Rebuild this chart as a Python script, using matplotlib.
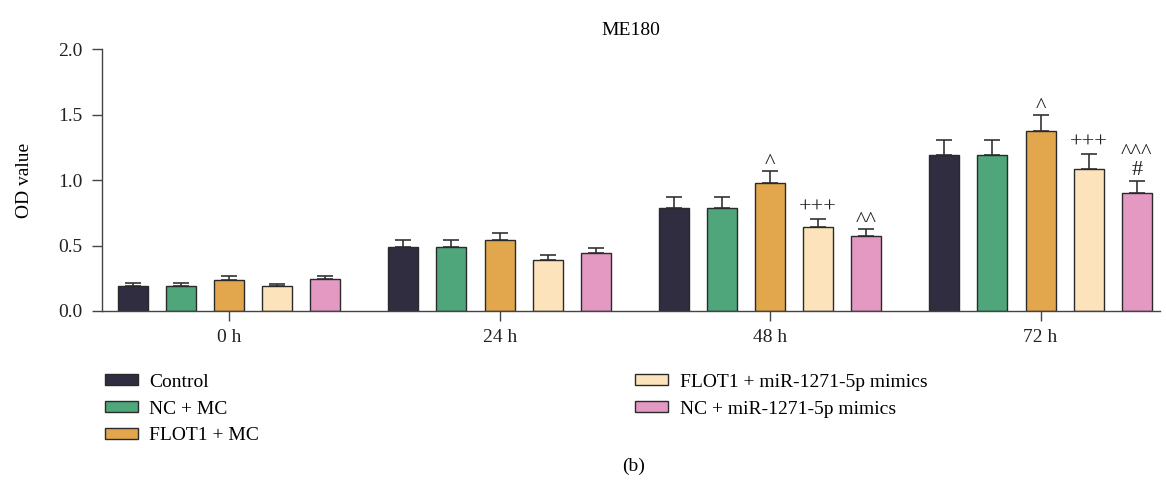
import matplotlib.pyplot as plt
import numpy as np
from matplotlib.patches import Patch

plt.rcParams["font.family"] = ["Liberation Serif", "DejaVu Serif"]

TIMEPOINTS = ["0 h", "24 h", "48 h", "72 h"]
GROUPS = [
    "Control",
    "NC + MC",
    "FLOT1 + MC",
    "FLOT1 + miR-1271-5p mimics",
    "NC + miR-1271-5p mimics",
]
COLORS = ["#2f2d3f", "#4fa67a", "#e2a74d", "#fde3bb", "#e499c3"]

# OD means per group, one entry per timepoint
control = [0.19, 0.49, 0.79, 1.19]
nc_mc = [0.19, 0.49, 0.79, 1.19]
flot1_mc = [0.24, 0.54, 0.975, 1.375]
flot1_mimics = [0.19, 0.39, 0.645, 1.085]
nc_mimics = [0.245, 0.44, 0.573, 0.898]

control_sd = [0.02, 0.05, 0.08, 0.12]
nc_mc_sd = [0.02, 0.05, 0.08, 0.115]
flot1_mc_sd = [0.03, 0.055, 0.095, 0.12]
flot1_mimics_sd = [0.015, 0.04, 0.055, 0.115]
nc_mimics_sd = [0.02, 0.04, 0.05, 0.095]

# significance marks: (group index, timepoint index, text)
MARKS = [
    (2, 2, "^"),
    (3, 2, "+++"),
    (4, 2, "^^"),
    (2, 3, "^"),
    (3, 3, "+++"),
    (4, 3, "^^^\n#"),
]

means = [control, nc_mc, flot1_mc, flot1_mimics, nc_mimics]
sds = [control_sd, nc_mc_sd, flot1_mc_sd, flot1_mimics_sd, nc_mimics_sd]

FS = 14

fig = plt.figure(figsize=(11.66, 4.92), dpi=100)
ax = fig.add_axes([0.0875, 0.368, 0.907, 0.532])

x = np.arange(len(TIMEPOINTS))
offset = 0.178
width = 0.111
edge = "#2a2a2a"

for i, (vals, err, color) in enumerate(zip(means, sds, COLORS)):
    pos = x + (i - 2) * offset
    ax.bar(pos, vals, width=width, color=color, edgecolor=edge, linewidth=1.0, zorder=2)
    ax.errorbar(pos, vals, yerr=[np.zeros(len(err)), err], fmt="none",
                ecolor="#333333", elinewidth=1.2, capsize=6, capthick=1.2, zorder=1)

for gi, ti, text in MARKS:
    top = means[gi][ti] + sds[gi][ti]
    # a lone caret sits high in its line box, so pull it down a little
    dy = -1.5 if text.startswith("^") and "#" not in text else 1
    ax.annotate(text, xy=(x[ti] + (gi - 2) * offset, top), xytext=(0, dy),
                textcoords="offset points", ha="center", va="bottom",
                fontsize=16, color="#222222", linespacing=0.85)

ax.set_xlim(-0.47, 3.44)
ax.set_ylim(0, 2.0)
ax.set_yticks([0.0, 0.5, 1.0, 1.5, 2.0])
ax.set_yticklabels(["0.0", "0.5", "1.0", "1.5", "2.0"], fontsize=FS)
ax.set_xticks(x)
ax.set_xticklabels(TIMEPOINTS, fontsize=FS)
ax.set_ylabel("OD value", fontsize=FS, labelpad=18)
ax.set_title("ME180", fontsize=FS, pad=10)

for side in ("top", "right"):
    ax.spines[side].set_visible(False)
for side in ("left", "bottom"):
    ax.spines[side].set_color("#444444")
    ax.spines[side].set_linewidth(1.0)
ax.tick_params(axis="both", colors="#444444", labelcolor="#222222", width=1.0)
ax.tick_params(axis="y", length=7, pad=7)
ax.tick_params(axis="x", length=7, pad=6)

handles = [Patch(facecolor=c, edgecolor=edge, linewidth=1.0) for c in COLORS]
legend_style = dict(frameon=False, fontsize=FS, handlelength=1.7, handleheight=0.5,
                    labelspacing=0.5, handletextpad=0.6, borderaxespad=0)
fig.legend(handles[:3], GROUPS[:3], loc="upper left",
           bbox_to_anchor=(0.083, 0.256), **legend_style)
fig.legend(handles[3:], GROUPS[3:], loc="upper left",
           bbox_to_anchor=(0.538, 0.256), **legend_style)

fig.text(0.543, 0.052, "(b)", ha="center", va="center", fontsize=FS)

fig.savefig("out.png", dpi=100)
